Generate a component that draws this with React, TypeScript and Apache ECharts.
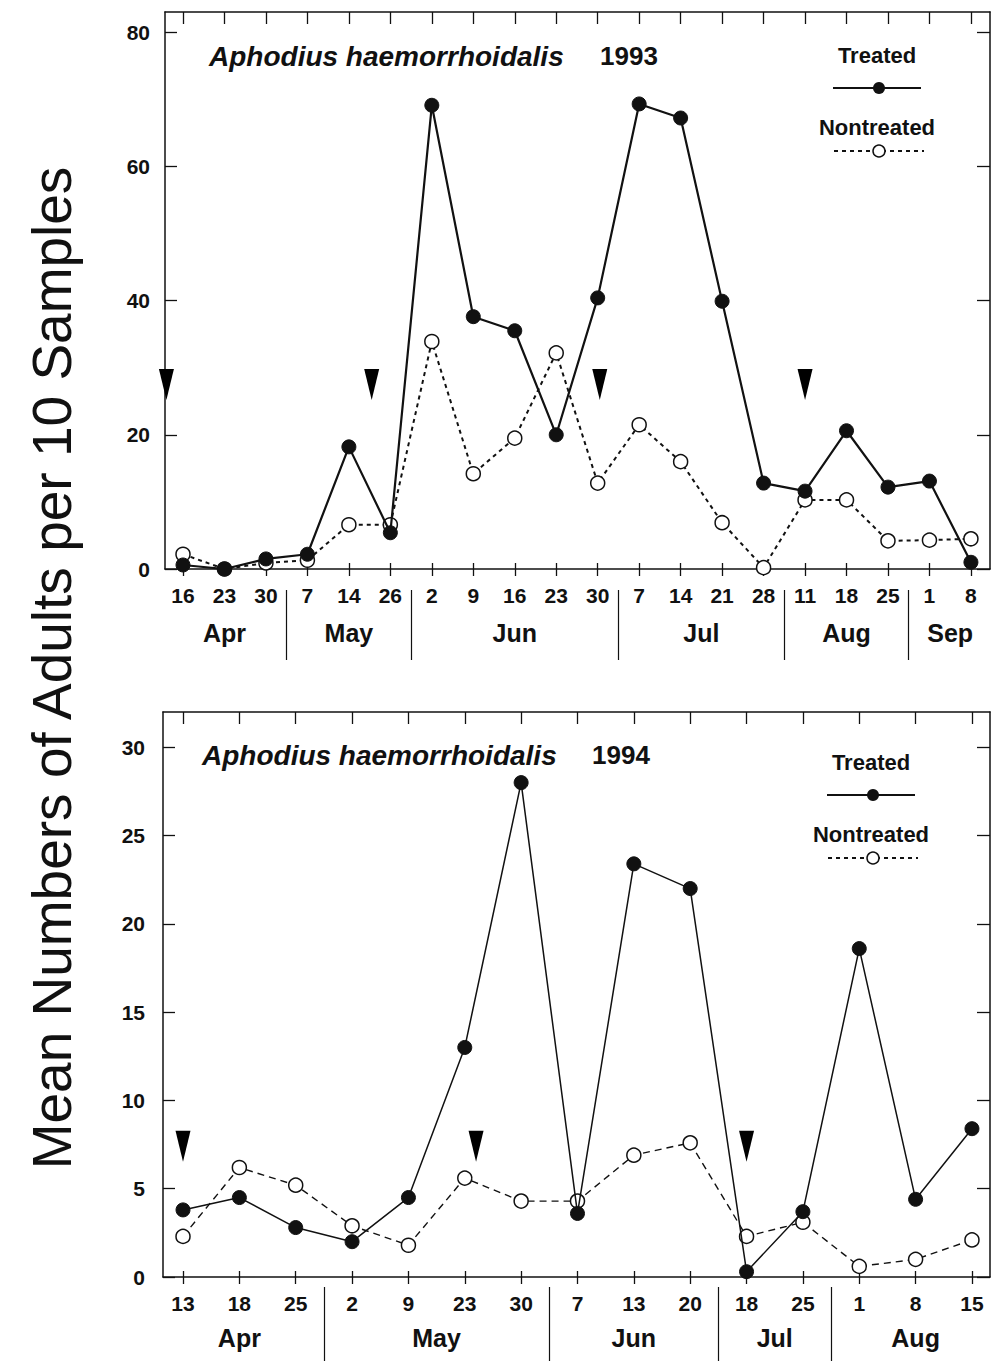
import React, { useEffect, useRef } from 'react';
import * as echarts from 'echarts';

// ---------- 1993 ----------
const days93 = ['16', '23', '30', '7', '14', '26', '2', '9', '16', '23', '30', '7', '14', '21', '28', '11', '18', '25', '1', '8'];
const months93 = ['Apr', 'May', 'Jun', 'Jul', 'Aug', 'Sep'];
const monthCounts93 = [3, 3, 5, 4, 3, 2];
const treated93 = [0.6, 0, 1.5, 2.2, 18.2, 5.4, 69.1, 37.6, 35.5, 20.0, 40.4, 69.3, 67.2, 39.9, 12.8, 11.6, 20.6, 12.2, 13.1, 1.0];
const nontreated93 = [2.2, 0, 0.9, 1.3, 6.6, 6.6, 33.9, 14.2, 19.5, 32.2, 12.8, 21.5, 16.0, 6.9, 0.2, 10.3, 10.3, 4.2, 4.3, 4.5];
const sprays93X = [-0.4, 4.55, 10.05, 15.0];
const sprays93Y = [27.5, 27.5, 27.5, 27.5];
const yTicks93 = [0, 20, 40, 60, 80];

// ---------- 1994 ----------
const days94 = ['13', '18', '25', '2', '9', '23', '30', '7', '13', '20', '18', '25', '1', '8', '15'];
const months94 = ['Apr', 'May', 'Jun', 'Jul', 'Aug'];
const monthCounts94 = [3, 4, 3, 2, 3];
const treated94 = [3.8, 4.5, 2.8, 2.0, 4.5, 13.0, 28.0, 3.6, 23.4, 22.0, 0.3, 3.7, 18.6, 4.4, 8.4];
const nontreated94 = [2.3, 6.2, 5.2, 2.9, 1.8, 5.6, 4.3, 4.3, 6.9, 7.6, 2.3, 3.1, 0.6, 1.0, 2.1];
const sprays94X = [0, 5.2, 10.0];
const sprays94Y = [7.4, 7.4, 7.4];
const yTicks94 = [0, 5, 10, 15, 20, 25, 30];

const ink = '#111111';
const FONT = '"Liberation Sans", Arial, Helvetica, sans-serif';

function monthLayout(counts: number[]) {
  const centers: number[] = [];
  const bounds: number[] = [];
  let start = 0;
  counts.forEach((c, k) => {
    centers.push(start + (c - 1) / 2);
    if (k > 0) bounds.push(start - 0.5);
    start += c;
  });
  return { centers, bounds };
}

function buildPanel(p: any) {
  const g = p.gridIndex;
  const idx = p.days.map((_: string, i: number) => i);
  const { centers, bounds } = monthLayout(p.counts);
  const base = { type: 'value', gridIndex: g, min: p.xMin, max: p.xMax, splitLine: { show: false } };
  const lineStyle = { color: ink, width: 1.5 };
  const tickStyle = { color: ink, width: 1.3 };
  const xAxes = [
    {
      ...base, position: 'bottom',
      axisLine: { show: true, onZero: false, lineStyle },
      axisTick: { show: true, inside: false, length: 7, customValues: idx, lineStyle: tickStyle },
      axisLabel: {
        show: true, customValues: idx, formatter: (v: number) => p.days[Math.round(v)] ?? '',
        margin: 16, fontSize: 21, fontWeight: 'bold', color: ink, fontFamily: FONT,
      },
    },
    {
      ...base, position: 'bottom',
      axisLine: { show: false, onZero: false },
      axisTick: { show: true, inside: true, length: 6, customValues: idx, lineStyle: tickStyle },
      axisLabel: { show: false },
    },
    {
      ...base, position: 'top',
      axisLine: { show: true, onZero: false, lineStyle },
      axisTick: { show: true, inside: true, length: 12, customValues: idx, lineStyle: tickStyle },
      axisLabel: { show: false },
    },
    {
      ...base, position: 'bottom', offset: p.sepOffset,
      axisLine: { show: false, onZero: false },
      axisTick: { show: true, inside: false, length: p.sepLength, customValues: bounds, lineStyle: { color: ink, width: 1.2 } },
      axisLabel: {
        show: true, customValues: centers,
        formatter: (v: number) => {
          const k = centers.findIndex((c) => Math.abs(c - v) < 1e-6);
          return k >= 0 ? p.months[k] : '';
        },
        margin: p.monthMargin, fontSize: 25, fontWeight: 'bold', color: ink, fontFamily: FONT,
      },
    },
  ];
  const yAxes = [
    {
      type: 'value', gridIndex: g, position: 'left', min: 0, max: p.yMax, splitLine: { show: false },
      axisLine: { show: true, onZero: false, lineStyle },
      axisTick: { show: true, inside: true, length: 12, customValues: p.yTicks, lineStyle: tickStyle },
      axisLabel: {
        show: true, customValues: p.yTicks, margin: p.yLabelMargin,
        fontSize: 21, fontWeight: 'bold', color: ink, fontFamily: FONT,
      },
    },
    {
      type: 'value', gridIndex: g, position: 'right', min: 0, max: p.yMax, splitLine: { show: false },
      axisLine: { show: true, onZero: false, lineStyle },
      axisTick: { show: true, inside: true, length: 13, customValues: p.yTicks, lineStyle: tickStyle },
      axisLabel: { show: false },
    },
  ];
  const xi = g * 4;
  const yi = g * 2;
  const series = [
    {
      type: 'line', name: 'Nontreated', xAxisIndex: xi, yAxisIndex: yi, silent: true, z: 2,
      data: p.nontreated.map((v: number, i: number) => [i, v]),
      symbol: 'circle', symbolSize: p.symbolSize,
      itemStyle: { color: '#ffffff', borderColor: ink, borderWidth: 1.5 },
      lineStyle: { color: ink, width: p.dashWidth, type: p.dash },
    },
    {
      type: 'line', name: 'Treated', xAxisIndex: xi, yAxisIndex: yi, silent: true, z: 3,
      data: p.treated.map((v: number, i: number) => [i, v]),
      symbol: 'circle', symbolSize: p.symbolSize,
      itemStyle: { color: ink, borderColor: ink, borderWidth: 1 },
      lineStyle: { color: ink, width: p.lineWidth },
    },
    {
      type: 'scatter', name: 'Spray', xAxisIndex: xi, yAxisIndex: yi, silent: true, z: 4,
      data: p.spraysX.map((x: number, i: number) => [x, p.spraysY[i]]),
      symbol: 'triangle', symbolRotate: 180, symbolSize: [15, 31],
      itemStyle: { color: '#000000', opacity: 1 },
    },
  ];
  return { xAxes, yAxes, series };
}

function legendGraphic(cx: number, y: number) {
  return [
    { type: 'text', x: cx, y, style: { text: 'Treated', fontSize: 22, fontWeight: 'bold', fontFamily: FONT, fill: ink, align: 'center', verticalAlign: 'middle' } },
    { type: 'line', shape: { x1: cx - 44, y1: y + 33, x2: cx + 44, y2: y + 33 }, style: { stroke: ink, lineWidth: 2 } },
    { type: 'circle', shape: { cx: cx + 2, cy: y + 33, r: 6 }, style: { fill: ink } },
    { type: 'text', x: cx, y: y + 72, style: { text: 'Nontreated', fontSize: 22, fontWeight: 'bold', fontFamily: FONT, fill: ink, align: 'center', verticalAlign: 'middle' } },
    { type: 'line', shape: { x1: cx - 43, y1: y + 96, x2: cx + 47, y2: y + 96 }, style: { stroke: ink, lineWidth: 2, lineDash: [4, 4] } },
    { type: 'circle', shape: { cx: cx + 2, cy: y + 96, r: 6 }, style: { fill: '#fff', stroke: ink, lineWidth: 1.5 } },
  ];
}

export default function App() {
  const ref = useRef<HTMLDivElement>(null);
  useEffect(() => {
    if (!ref.current) return;
    const chart = echarts.init(ref.current, undefined, { renderer: 'svg' });
    const p93 = buildPanel({
      gridIndex: 0, xMin: -0.434, xMax: 19.46, yMax: 83, yTicks: yTicks93,
      days: days93, months: months93, counts: monthCounts93,
      treated: treated93, nontreated: nontreated93, spraysX: sprays93X, spraysY: sprays93Y,
      lineWidth: 2.2, dashWidth: 2, dash: [4, 4], symbolSize: 14,
      yLabelMargin: 15, sepOffset: 21, sepLength: 70, monthMargin: 30,
    });
    const p94 = buildPanel({
      gridIndex: 1, xMin: -0.355, xMax: 14.32, yMax: 32, yTicks: yTicks94,
      days: days94, months: months94, counts: monthCounts94,
      treated: treated94, nontreated: nontreated94, spraysX: sprays94X, spraysY: sprays94Y,
      lineWidth: 1.5, dashWidth: 1.4, dash: [7, 5], symbolSize: 14,
      yLabelMargin: 18, sepOffset: 10, sepLength: 84, monthMargin: 38,
    });
    chart.setOption({
      animation: false,
      backgroundColor: '#ffffff',
      grid: [
        { left: 165, top: 12, width: 825, height: 557, containLabel: false },
        { left: 163, top: 712, width: 827, height: 565, containLabel: false },
      ],
      xAxis: [...p93.xAxes, ...p94.xAxes],
      yAxis: [...p93.yAxes, ...p94.yAxes],
      series: [...p93.series, ...p94.series],
      graphic: [
        {
          type: 'text', x: 52, y: 668, rotation: Math.PI / 2,
          style: { text: 'Mean Numbers of Adults per 10 Samples', fontSize: 55, fontFamily: FONT, fill: ink, align: 'center', verticalAlign: 'middle' },
        },
        { type: 'text', x: 209, y: 56, style: { text: 'Aphodius haemorrhoidalis', fontSize: 28, fontStyle: 'italic', fontWeight: 'bold', fontFamily: FONT, fill: ink, align: 'left', verticalAlign: 'middle' } },
        { type: 'text', x: 600, y: 56, style: { text: '1993', fontSize: 26, fontWeight: 'bold', fontFamily: FONT, fill: ink, align: 'left', verticalAlign: 'middle' } },
        { type: 'text', x: 202, y: 755, style: { text: 'Aphodius haemorrhoidalis', fontSize: 28, fontStyle: 'italic', fontWeight: 'bold', fontFamily: FONT, fill: ink, align: 'left', verticalAlign: 'middle' } },
        { type: 'text', x: 592, y: 755, style: { text: '1994', fontSize: 26, fontWeight: 'bold', fontFamily: FONT, fill: ink, align: 'left', verticalAlign: 'middle' } },
        ...legendGraphic(877, 55),
        ...legendGraphic(871, 762),
      ],
    });
    return () => chart.dispose();
  }, []);
  return <div ref={ref} style={{ position: 'absolute', left: 0, top: 0, width: 992, height: 1361 }} />;
}
